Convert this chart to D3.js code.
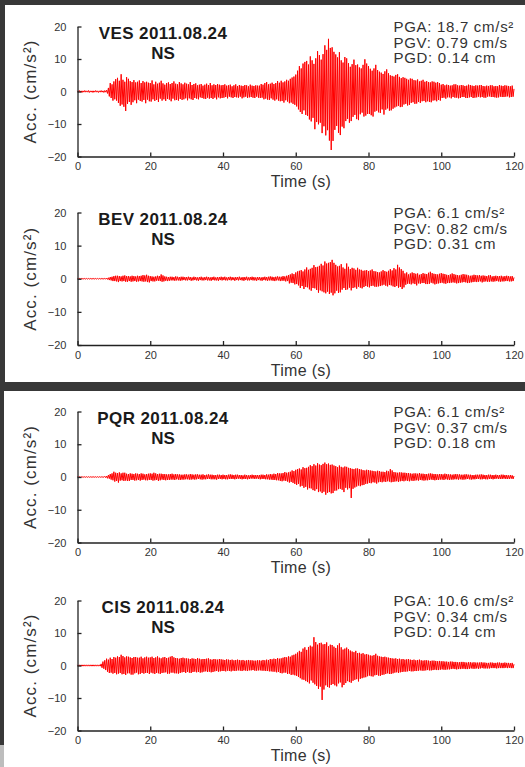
<!DOCTYPE html>
<meta charset="utf-8">
<style>
body { margin: 0; background: #383838; }
svg { display: block; font-family: "Liberation Sans", Arial, sans-serif; }
.axis .domain, .axis line { stroke: #222; stroke-width: 1.3; }
.axis text { font-size: 11px; fill: #333; font-family: "Liberation Sans", Arial, sans-serif; }
.trace { fill: none; stroke: #ff0000; stroke-width: 1; }
</style>
<svg width="525" height="767"></svg>
<script src="https://d3js.org/d3.v7.min.js"></script>
<script>

// station records, NS component, 2011.08.24
var stations = ["VES", "BEV", "PQR", "CIS"];
var eventDate = "2011.08.24";
var component = "NS";
var pga = [18.7, 6.1, 6.1, 10.6];
var pgv = [0.79, 0.82, 0.37, 0.34];
var pgd = [0.14, 0.31, 0.18, 0.14];
var xTicks = [0, 20, 40, 60, 80, 100, 120];
var yTicks = [-20, -10, 0, 10, 20];
var dt = 0.25; // seconds between samples

// acceleration (cm/s^2), one row = 10 s
var accVES = [
  0.2,-0.2,0.3,-0.2,0.2,-0.3,0.2,-0.2,0.3,-0.2, 0.2,-0.2,0.3,-0.3,0.2,-0.2,0.2,-0.3,0.2,-0.2,
  0.3,-0.2,0.2,-0.3,0.2,-0.2,0.3,-0.2,0.2,-0.3, 0.3,-0.2,0.4,-0.6,1.1,-1.5,2.6,-2.0,2.2,-2.8,
  3.1,-2.4,3.8,-2.8,4.2,-3.5,3.3,-4.4,5.3,-4.0, 3.6,-4.7,3.0,-6.0,4.4,-3.8,3.9,-3.2,3.2,-4.1,
  2.9,-3.3,3.5,-2.7,2.8,-3.6,3.0,-2.5,3.4,-2.9, 2.6,-3.1,3.2,-2.6,2.8,-3.6,3.0,-2.5,2.7,-3.0,
  2.6,-3.1,3.4,-2.4,2.2,-2.9,3.0,-2.6,2.4,-3.2, 2.7,-2.2,3.3,-2.8,2.5,-2.4,2.1,-2.9,2.6,-2.3,
  2.8,-2.5,2.3,-3.0,2.6,-2.2,3.1,-2.7,2.4,-2.6, 2.2,-2.8,2.9,-2.3,2.5,-2.6,2.2,-2.4,2.7,-2.1,
  2.4,-2.7,2.2,-2.1,2.9,-2.4,2.0,-2.6,2.3,-2.0, 2.5,-2.2,1.9,-2.4,2.1,-1.8,2.3,-2.0,1.8,-2.2,
  2.1,-2.3,2.4,-1.9,2.0,-2.2,2.6,-2.0,1.9,-2.3, 2.2,-1.9,2.0,-2.4,2.3,-1.8,2.1,-2.1,1.9,-2.0,
  2.0,-1.9,2.2,-1.7,1.8,-2.1,1.9,-1.6,2.1,-1.8, 1.6,-2.0,1.9,-1.7,2.2,-1.8,1.7,-1.9,2.0,-1.6,
  1.8,-2.1,1.7,-1.8,2.0,-1.6,1.9,-2.0,1.6,-1.8, 2.1,-1.7,1.8,-1.9,1.7,-2.0,1.9,-1.6,1.8,-1.9,
  1.8,-2.0,2.3,-1.9,2.1,-2.4,2.6,-2.2,2.9,-2.5, 2.2,-2.6,2.4,-2.1,2.7,-2.5,2.3,-2.8,2.6,-2.4,
  3.2,-2.8,2.7,-3.0,3.3,-2.9,2.8,-3.4,3.1,-2.7, 3.6,-3.1,3.3,-3.6,3.9,-3.4,4.3,-3.8,4.6,-4.1,
  5.2,-4.6,6.4,-5.5,7.8,-6.3,7.1,-6.9,8.6,-5.8, 9.1,-7.2,9.4,-7.5,8.3,-8.6,10.8,-9.2,9.6,-8.1,
  8.5,-11.6,10.2,-9.4,12.4,-10.1,11.2,-9.6,9.8,-12.8, 11.5,-10.7,14.2,-13.5,12.8,-11.9,16.2,-15.1,13.4,-18.0,
  13.6,-15.2,12.2,-11.8,11.4,-10.6,10.5,-12.7,12.1,-13.4, 9.6,-10.8,8.9,-11.3,10.6,-9.1,10.2,-8.4,8.7,-9.6,
  7.6,-9.1,8.4,-7.8,9.8,-7.2,8.1,-8.5,8.3,-8.8, 7.4,-7.0,7.1,-6.5,8.2,-7.7,9.9,-7.4,8.6,-6.9,
  7.8,-6.9,7.0,-7.3,6.4,-7.7,7.1,-6.2,8.2,-5.9, 6.6,-6.4,6.1,-6.6,5.8,-5.5,5.4,-7.1,6.2,-5.6,
  6.8,-5.2,5.6,-5.9,5.0,-5.8,4.8,-5.3,4.6,-4.9, 5.1,-4.6,5.3,-4.4,4.5,-4.8,4.1,-4.7,4.4,-4.0,
  4.2,-3.8,3.9,-4.3,3.6,-4.1,4.0,-3.5,3.9,-3.3, 3.5,-3.8,3.4,-3.7,3.7,-3.2,3.1,-3.5,3.3,-3.0,
  3.6,-2.9,3.0,-3.3,3.2,-3.0,2.9,-3.2,2.8,-3.3, 3.1,-2.8,3.0,-2.7,2.7,-3.0,2.9,-2.6,2.6,-2.8,
  2.1,-2.0,2.3,-1.9,1.9,-2.2,2.1,-1.8,2.0,-1.8, 1.8,-2.1,1.9,-1.7,2.2,-1.9,2.2,-1.9,1.9,-2.1,
  1.8,-2.0,2.0,-1.7,1.9,-1.7,1.7,-2.0,1.8,-2.0, 2.1,-1.8,2.0,-1.7,1.8,-2.0,1.7,-1.9,1.9,-1.8,
  1.8,-1.6,1.9,-1.8,2.0,-1.7,1.7,-1.9,1.6,-1.9, 1.8,-1.6,1.7,-1.5,1.9,-1.7,1.9,-1.7,1.6,-1.8,
  1.7,-1.9,1.6,-1.8,2.0,-1.6,1.8,-1.7,1.7,-1.7, 1.9,-1.6,1.8,-1.5,1.7,-1.8,1.6,-1.7,1.8,-1.6,
  0.8
];
var accBEV = [
  0.1,-0.1,0.1,-0.1,0.1,-0.1,0.1,-0.1,0.1,-0.1, 0.1,-0.1,0.1,-0.1,0.1,-0.1,0.1,-0.1,0.1,-0.1,
  0.1,-0.1,0.1,-0.1,0.1,-0.1,0.1,-0.1,0.1,-0.1, 0.1,-0.1,0.2,-0.2,0.3,-0.4,0.5,-0.5,0.6,-0.7,
  0.8,-0.7,0.9,-0.8,0.9,-1.0,0.8,-0.7,0.7,-0.8, 0.9,-0.7,1.0,-0.9,0.8,-0.9,0.8,-0.7,0.7,-0.9,
  0.9,-0.8,0.8,-0.7,0.7,-0.9,0.9,-0.8,0.8,-0.7, 0.9,-0.8,1.1,-0.9,1.0,-0.8,1.2,-1.0,0.9,-1.1,
  0.8,-0.7,0.7,-0.8,0.6,-0.8,0.7,-0.6,0.9,-0.6, 0.8,-0.7,1.3,-0.9,1.0,-0.8,0.7,-0.6,0.6,-0.7,
  0.5,-0.6,0.6,-0.5,0.6,-0.5,0.5,-0.6,0.7,-0.5, 0.6,-0.5,0.5,-0.6,0.6,-0.5,0.6,-0.4,0.5,-0.5,
  0.5,-0.5,0.6,-0.4,0.5,-0.6,0.4,-0.5,0.6,-0.4, 0.5,-0.5,0.4,-0.6,0.5,-0.4,0.6,-0.5,0.4,-0.5,
  0.5,-0.4,0.6,-0.5,0.5,-0.5,0.4,-0.6,0.5,-0.4, 0.6,-0.5,0.4,-0.5,0.5,-0.6,0.5,-0.4,0.6,-0.5,
  0.5,-0.4,0.6,-0.5,0.4,-0.5,0.5,-0.4,0.6,-0.5, 0.5,-0.4,0.4,-0.6,0.5,-0.4,0.5,-0.5,0.6,-0.4,
  0.4,-0.5,0.5,-0.6,0.5,-0.4,0.6,-0.5,0.4,-0.5, 0.5,-0.4,0.6,-0.5,0.5,-0.5,0.4,-0.6,0.5,-0.4,
  0.5,-0.5,0.4,-0.6,0.5,-0.4,0.6,-0.5,0.5,-0.6, 0.6,-0.5,0.7,-0.5,0.6,-0.6,0.5,-0.7,0.6,-0.5,
  0.7,-0.5,0.6,-0.7,0.6,-0.6,0.8,-0.6,0.7,-0.8, 0.9,-0.7,1.1,-1.4,1.3,-1.2,1.6,-1.3,1.4,-1.7,
  1.9,-1.6,2.2,-2.0,2.4,-2.8,2.6,-2.2,2.2,-3.1, 2.8,-2.5,3.4,-2.6,2.7,-3.2,3.0,-3.6,3.3,-2.8,
  4.1,-2.9,3.5,-3.4,3.6,-4.2,3.9,-3.5,4.5,-3.8, 4.0,-4.1,5.2,-4.4,4.6,-3.9,4.8,-4.6,5.0,-4.2,
  5.7,-5.0,4.8,-4.4,4.2,-3.6,3.7,-4.3,3.9,-4.1, 4.4,-3.3,3.4,-2.8,3.0,-3.4,4.6,-3.2,3.6,-2.7,
  2.9,-3.5,3.3,-2.8,3.1,-2.6,2.7,-3.0,3.3,-2.4, 2.8,-2.7,2.7,-2.9,2.4,-2.5,2.5,-2.2,2.6,-2.4,
  2.3,-2.6,2.5,-2.2,2.8,-2.1,2.3,-2.4,2.2,-2.4, 2.0,-2.3,1.9,-2.2,2.2,-2.0,2.6,-1.8,2.3,-2.1,
  2.1,-2.3,2.4,-1.9,2.9,-2.0,2.5,-2.3,3.2,-2.5, 2.8,-2.2,4.2,-2.7,3.4,-2.5,2.9,-3.1,2.4,-2.6,
  1.6,-1.8,1.9,-1.5,1.3,-1.5,1.6,-1.7,1.9,-1.4, 1.7,-1.6,1.5,-2.0,1.6,-1.4,1.2,-1.5,1.4,-1.3,
  1.7,-1.3,1.5,-1.6,1.4,-1.6,1.8,-1.5,2.1,-1.2, 1.7,-1.4,1.5,-1.7,1.4,-1.5,1.3,-1.4,1.5,-1.3,
  1.7,-1.2,1.5,-1.4,1.4,-1.5,1.2,-1.3,1.1,-1.3, 1.3,-1.2,1.6,-1.1,1.4,-1.2,1.2,-1.4,1.1,-1.3,
  1.0,-1.2,1.2,-1.1,1.4,-1.0,1.3,-1.1,1.2,-1.3, 1.0,-1.2,0.9,-1.1,1.0,-1.0,1.2,-0.9,1.1,-1.0,
  1.0,-0.9,1.1,-0.8,0.9,-1.1,1.0,-0.9,0.9,-0.8, 0.8,-0.9,1.0,-0.9,1.1,-0.8,0.7,-0.9,0.8,-0.8,
  0.9,-0.7,0.8,-0.8,0.8,-0.9,0.9,-0.8,0.7,-0.8, 0.8,-0.7,0.9,-0.7,0.8,-0.8,0.7,-0.8,0.8,-0.7,
  0.4
];
var accPQR = [
  0.1,-0.1,0.1,-0.1,0.1,-0.1,0.1,-0.1,0.1,-0.1, 0.1,-0.1,0.1,-0.1,0.1,-0.1,0.1,-0.1,0.1,-0.1,
  0.1,-0.1,0.1,-0.1,0.1,-0.1,0.1,-0.1,0.1,-0.1, 0.2,-0.2,0.3,-0.4,0.6,-0.5,0.9,-0.8,1.1,-1.0,
  1.6,-1.4,1.3,-1.2,1.2,-1.7,1.4,-1.1,1.1,-1.0, 1.3,-1.2,1.3,-1.1,1.0,-1.2,0.9,-1.2,1.1,-0.9,
  1.0,-0.9,0.9,-1.1,1.1,-1.0,1.0,-0.9,0.9,-1.1, 1.1,-0.9,1.0,-0.8,0.8,-1.0,0.9,-1.0,1.0,-0.9,
  1.1,-0.9,1.0,-1.1,1.3,-1.0,1.1,-0.9,0.9,-1.2, 1.0,-1.0,1.0,-0.8,0.9,-0.9,0.9,-1.0,0.8,-0.9,
  0.8,-0.9,0.9,-0.8,1.0,-0.8,0.8,-0.9,0.9,-0.7, 0.8,-0.8,0.8,-0.9,0.7,-0.8,0.7,-0.8,0.8,-0.7,
  0.8,-0.7,0.7,-0.8,0.9,-0.8,0.8,-0.7,0.7,-0.8, 0.8,-0.7,0.8,-0.6,0.7,-0.7,0.7,-0.8,0.8,-0.7,
  0.6,-0.7,0.7,-0.6,0.8,-0.6,0.7,-0.7,0.7,-0.7, 0.6,-0.7,0.6,-0.8,0.7,-0.6,0.7,-0.6,0.6,-0.7,
  0.7,-0.6,0.6,-0.7,0.6,-0.7,0.7,-0.6,0.8,-0.6, 0.7,-0.6,0.6,-0.7,0.7,-0.6,0.7,-0.5,0.6,-0.6,
  0.6,-0.7,0.5,-0.6,0.7,-0.6,0.6,-0.7,0.5,-0.6, 0.6,-0.5,0.7,-0.5,0.6,-0.6,0.6,-0.5,0.6,-0.6,
  0.6,-0.7,0.7,-0.6,0.7,-0.6,0.6,-0.7,0.8,-0.7, 0.7,-0.8,0.9,-0.8,0.8,-0.9,1.0,-0.9,0.9,-1.0,
  1.2,-1.0,1.1,-1.2,1.1,-1.3,1.2,-1.1,1.5,-1.2, 1.3,-1.4,1.4,-1.7,1.6,-1.5,2.0,-1.8,1.8,-2.1,
  2.2,-2.4,2.4,-2.1,2.6,-2.9,2.3,-2.7,3.0,-3.3, 2.7,-3.0,2.8,-3.8,3.1,-3.4,3.6,-3.5,3.3,-4.0,
  3.9,-4.2,3.5,-3.7,4.2,-4.6,3.8,-4.4,3.6,-4.9, 4.0,-4.5,4.4,-5.4,3.9,-4.8,4.1,-4.6,3.7,-5.0,
  3.8,-4.9,3.5,-4.2,3.3,-4.1,3.0,-3.7,3.5,-3.6, 3.1,-3.9,2.9,-4.6,3.2,-3.3,3.1,-3.8,2.8,-3.4,
  2.7,-6.4,2.5,-3.6,2.4,-3.2,2.6,-2.9,2.6,-2.6, 2.4,-2.8,2.3,-2.5,2.1,-2.4,2.0,-2.1,2.2,-2.0,
  2.1,-1.8,2.0,-1.9,1.9,-1.6,1.8,-1.7,1.7,-2.0, 1.9,-1.6,1.8,-1.5,1.6,-1.6,1.6,-1.4,1.5,-1.5,
  1.9,-1.3,1.7,-1.4,2.4,-1.6,2.0,-1.5,1.5,-1.4, 1.4,-1.3,1.3,-1.5,1.4,-1.3,1.4,-1.2,1.3,-1.3,
  1.3,-1.1,1.2,-1.2,1.2,-1.3,1.1,-1.1,1.0,-1.2, 1.1,-1.1,1.1,-1.0,1.0,-1.1,1.2,-0.9,1.0,-1.0,
  1.0,-1.1,0.9,-1.0,0.9,-1.0,1.0,-0.9,1.1,-0.8, 1.0,-0.9,0.9,-1.0,0.9,-0.9,0.8,-0.9,0.9,-0.8,
  0.9,-0.8,0.8,-0.9,1.0,-0.7,0.9,-0.8,0.8,-0.9, 0.8,-0.8,0.7,-0.8,0.8,-0.7,0.9,-0.7,0.8,-0.8,
  0.8,-0.7,0.7,-0.8,0.7,-0.8,0.8,-0.7,0.8,-0.6, 0.7,-0.7,0.7,-0.8,0.6,-0.7,0.6,-0.7,0.7,-0.6,
  0.7,-0.6,0.7,-0.7,0.8,-0.7,0.7,-0.6,0.6,-0.7, 0.6,-0.7,0.7,-0.6,0.7,-0.6,0.6,-0.7,0.6,-0.6,
  0.7,-0.5,0.6,-0.6,0.6,-0.6,0.7,-0.6,0.7,-0.5, 0.6,-0.6,0.6,-0.6,0.5,-0.6,0.6,-0.5,0.5,-0.6,
  0.3
];
var accCIS = [
  0.2,-0.2,0.2,-0.2,0.2,-0.2,0.2,-0.2,0.2,-0.2, 0.2,-0.2,0.2,-0.2,0.2,-0.2,0.2,-0.2,0.2,-0.2,
  0.2,-0.2,0.2,-0.2,0.2,-0.2,0.5,-0.7,1.2,-1.0, 1.6,-1.4,2.1,-1.9,1.8,-2.3,2.4,-2.2,2.0,-2.5,
  2.6,-2.3,2.4,-2.7,2.8,-2.5,2.6,-2.3,3.3,-2.7, 2.9,-2.6,2.5,-2.9,2.8,-2.4,2.7,-2.4,2.5,-2.8,
  2.3,-2.8,2.6,-2.4,2.6,-2.2,2.4,-2.7,2.4,-2.6, 2.7,-2.3,2.2,-2.5,2.5,-2.3,2.7,-2.3,2.4,-2.6,
  2.5,-2.2,2.7,-2.4,2.3,-2.6,2.5,-2.3,2.8,-2.4, 2.4,-2.6,2.2,-2.3,2.5,-2.2,2.6,-2.1,2.3,-2.5,
  2.4,-2.5,2.7,-2.2,2.9,-2.2,2.5,-2.4,2.3,-2.4, 2.2,-2.5,2.1,-2.3,2.3,-2.1,2.4,-2.0,2.2,-2.3,
  2.2,-2.0,2.1,-2.2,2.0,-2.3,2.2,-2.0,2.1,-1.9, 2.0,-2.1,2.3,-2.0,2.1,-2.2,1.9,-2.1,2.0,-1.9,
  2.0,-1.8,2.1,-2.0,2.2,-1.9,1.9,-2.1,1.8,-2.0, 2.0,-1.8,1.9,-1.7,1.8,-1.9,2.0,-1.8,1.9,-1.7,
  1.8,-1.7,1.7,-1.8,1.9,-1.6,1.8,-1.7,1.7,-1.8, 1.8,-1.6,1.6,-1.7,1.7,-1.6,1.8,-1.5,1.7,-1.6,
  1.6,-1.7,1.7,-1.5,1.5,-1.6,1.6,-1.7,1.7,-1.5, 1.6,-1.5,1.6,-1.4,1.5,-1.6,1.5,-1.6,1.6,-1.5,
  1.6,-1.5,1.5,-1.6,1.7,-1.6,1.6,-1.7,1.8,-1.7, 1.7,-1.8,2.0,-1.8,1.9,-1.9,2.1,-1.9,2.0,-2.1,
  2.3,-2.0,2.1,-2.3,2.2,-2.4,2.4,-2.2,2.6,-2.2, 2.5,-2.6,2.8,-2.5,2.7,-2.9,3.1,-2.8,3.3,-3.0,
  3.6,-3.2,4.0,-3.5,4.5,-3.9,4.2,-4.3,5.2,-4.4, 5.6,-4.8,4.8,-5.1,5.7,-5.5,6.1,-4.6,5.8,-5.3,
  8.7,-5.8,7.2,-6.3,6.4,-7.2,6.9,-6.5,7.0,-10.6, 6.5,-7.4,6.6,-6.1,7.1,-6.6,5.9,-6.8,6.4,-6.0,
  6.3,-5.7,5.8,-6.1,5.4,-6.4,6.2,-5.5,6.8,-5.2, 5.6,-6.7,4.9,-6.0,5.2,-5.4,5.5,-4.8,5.0,-5.1,
  4.6,-5.3,4.3,-4.7,4.1,-4.4,4.5,-4.2,3.8,-4.9, 3.9,-4.1,3.6,-3.9,3.8,-3.7,3.4,-3.6,3.5,-3.3,
  3.3,-3.1,3.1,-3.3,3.0,-3.4,3.2,-3.0,3.6,-2.9, 3.0,-3.1,2.8,-3.2,2.7,-2.9,2.6,-2.8,2.7,-2.6,
  2.5,-2.4,2.4,-2.6,2.3,-2.6,2.2,-2.4,2.1,-2.2, 2.2,-2.1,2.0,-2.3,2.1,-2.1,1.9,-2.0,2.0,-1.9,
  1.8,-1.9,1.9,-1.8,2.0,-1.7,1.8,-1.8,1.7,-1.8, 1.8,-1.7,1.6,-1.7,1.7,-1.6,1.8,-1.5,1.6,-1.6,
  1.5,-1.6,1.6,-1.5,1.6,-1.4,1.5,-1.5,1.4,-1.5, 1.5,-1.4,1.5,-1.3,1.4,-1.4,1.3,-1.4,1.4,-1.3,
  1.3,-1.2,1.3,-1.3,1.2,-1.3,1.2,-1.2,1.1,-1.2, 1.2,-1.1,1.2,-1.0,1.1,-1.1,1.1,-1.2,1.0,-1.1,
  1.0,-1.1,1.1,-1.0,1.1,-1.0,1.0,-1.1,0.9,-1.1, 1.0,-1.0,1.0,-0.9,0.9,-1.0,1.0,-1.0,0.9,-0.9,
  0.9,-1.0,0.9,-0.9,1.0,-0.8,0.9,-0.9,0.9,-0.9, 0.8,-0.9,0.8,-0.9,0.9,-0.8,0.9,-0.8,0.8,-0.8,
  0.8,-0.9,0.9,-0.8,0.9,-0.8,0.8,-0.8,0.8,-0.8, 0.9,-0.7,0.8,-0.8,0.8,-0.7,0.7,-0.8,0.8,-0.8,
  0.4
];
var traces = [accVES, accBEV, accPQR, accCIS];

var svg = d3.select("svg");

// two white sheets on the dark background
svg.append("rect").attr("x", 5).attr("y", 5).attr("width", 520).attr("height", 377).attr("fill", "#fff");
svg.append("rect").attr("x", 4).attr("y", 391).attr("width", 521).attr("height", 376).attr("fill", "#fff");
svg.append("rect").attr("x", 0).attr("y", 745).attr("width", 4).attr("height", 22).attr("fill", "#bdbdbd");

var panelTop = [26.5, 212.5, 411.5, 600.5],
    panelBottom = [156.5, 345, 542.5, 730.5];

var x = d3.scaleLinear().domain([0, 120]).range([77.5, 514]);

stations.forEach(function(st, k) {
  var top = panelTop[k], bottom = panelBottom[k];
  var y = d3.scaleLinear().domain([-20, 20]).range([bottom, top]);
  var g = svg.append("g");

  var line = d3.line()
      .x(function(d, i) { return x(i * dt); })
      .y(function(d) { return y(d); });

  g.append("path")
      .datum(traces[k])
      .attr("class", "trace")
      .attr("d", line);

  g.append("g")
      .attr("class", "axis")
      .attr("transform", "translate(0," + bottom + ")")
      .call(d3.axisBottom(x).tickValues(xTicks).tickSizeInner(-4).tickSizeOuter(0).tickPadding(6))
      .attr("font-size", null);

  g.append("g")
      .attr("class", "axis")
      .attr("transform", "translate(" + x(0) + ",0)")
      .call(d3.axisLeft(y).tickValues(yTicks).tickSizeInner(-4).tickSizeOuter(0).tickPadding(11))
      .attr("font-size", null);

  g.append("text")
      .attr("transform", "translate(36," + (top + bottom) / 2 + ") rotate(-90)")
      .attr("text-anchor", "middle")
      .style("font-size", "17px")
      .style("letter-spacing", "1.1px")
      .attr("fill", "#333")
      .text("Acc. (cm/s²)");

  g.append("text")
      .attr("x", 301)
      .attr("y", bottom + 30.5)
      .attr("text-anchor", "middle")
      .style("font-size", "16px")
      .style("letter-spacing", "0.3px")
      .attr("fill", "#333")
      .text("Time (s)");

  // station title
  g.append("text")
      .attr("x", 163)
      .attr("y", top + 12)
      .attr("text-anchor", "middle")
      .style("font-size", "17px")
      .style("font-weight", "bold")
      .style("letter-spacing", "0.4px")
      .attr("fill", "#1a1a1a")
      .text(st + " " + eventDate);

  g.append("text")
      .attr("x", 163)
      .attr("y", top + 32)
      .attr("text-anchor", "middle")
      .style("font-size", "17px")
      .style("font-weight", "bold")
      .attr("fill", "#1a1a1a")
      .text(component);

  var info = [
    "PGA: " + pga[k] + " cm/s²",
    "PGV: " + pgv[k].toFixed(2) + " cm/s",
    "PGD: " + pgd[k].toFixed(2) + " cm"
  ];
  g.selectAll(".info")
    .data(info)
    .enter().append("text")
      .attr("x", 393.5)
      .attr("y", function(d, i) { return top + 5.2 + i * 15.8; })
      .style("font-size", "15px")
      .style("letter-spacing", "0.7px")
      .attr("fill", "#333")
      .text(function(d) { return d; });
});

</script>
